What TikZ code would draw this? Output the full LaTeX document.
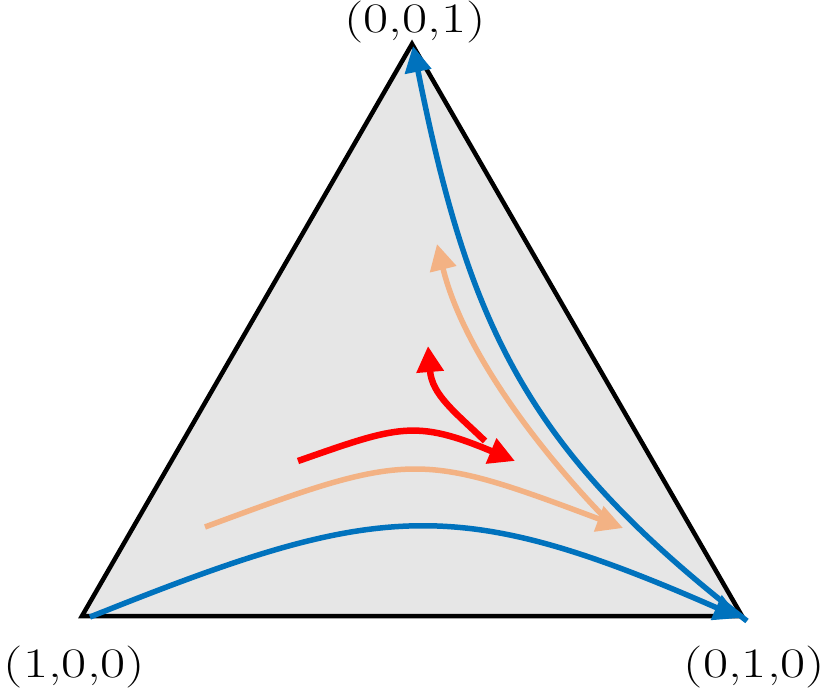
\documentclass[tikz,border=0pt]{standalone}
\usepackage{fontspec}
\usetikzlibrary{arrows.meta}
\definecolor{tblue}{RGB}{0,114,189}
\definecolor{tpeach}{RGB}{243,178,132}
\definecolor{tred}{RGB}{255,0,0}
\definecolor{tgray}{RGB}{230,230,230}
\newcommand{\widelbl}[1]{\scalebox{1.3}[1]{#1}}
\begin{document}
\begin{tikzpicture}[x=1pt,y=-1pt,
  traj/.style={line width=5.5pt,-{Triangle[length=26pt,width=26pt]}},
  lbl/.style={font=\fontsize{42}{50}\selectfont,inner sep=0pt,anchor=base}]
\useasboundingbox (0,0) rectangle (830,690);
\coordinate (A) at (82,616);
\coordinate (B) at (742,616);
\coordinate (C) at (412,44);
\filldraw[fill=tgray,draw=black,line width=4.5pt] (A) -- (B) -- (C) -- cycle;
% blue trajectories
\coordinate (b1s) at (90,617);
\coordinate (b1e) at (740,618);
\coordinate (b2s) at (747,621);
\coordinate (b2e) at (413,46);
\draw[traj,tblue] (b1s) .. controls (377,502) and (453,492) .. (b1e);
\draw[traj,tblue] (b2s) .. controls (526,450) and (469,326) .. (b2e);
% peach trajectories
\coordinate (o1s) at (205,527);
\coordinate (o1e) at (623,528);
\coordinate (o2s) at (604,517);
\coordinate (o2e) at (437,244);
\draw[traj,tpeach] (o1s) .. controls (410,451) and (418,451) .. (o1e);
\draw[traj,tpeach] (o2s) .. controls (544,455) and (464,354) .. (o2e);
% red trajectories
\coordinate (r1s) at (298,461);
\coordinate (r1e) at (515,461);
\coordinate (r2s) at (485,441);
\coordinate (r2e) at (428,346);
\draw[traj,tred,line width=6.5pt] (r1s) .. controls (398,426) and (415,419) .. (r1e);
\draw[traj,tred,line width=6.5pt] (r2s) .. controls (455,412) and (432,395) .. (r2e);
% labels
\node[lbl] (lA) at (74.5,677.5) {\widelbl{(1,0,0)}};
\node[lbl] (lB) at (754.5,677.5) {\widelbl{(0,1,0)}};
\node[lbl] (lC) at (415,32.5) {\widelbl{(0,0,1)}};
\end{tikzpicture}
\end{document}
